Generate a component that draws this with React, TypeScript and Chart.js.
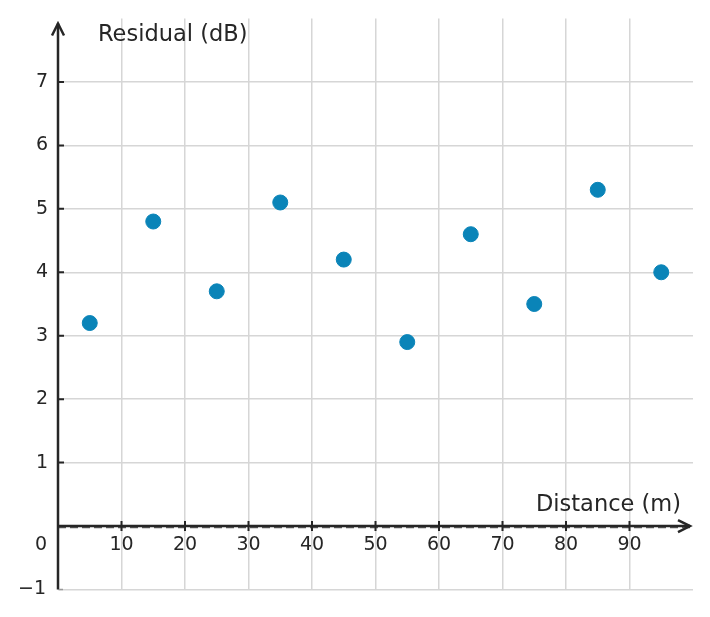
import Chart from 'chart.js/auto';
import { useEffect, useRef } from 'react';

const distances = [5, 15, 25, 35, 45, 55, 65, 75, 85, 95];
const residuals = [3.2, 4.8, 3.7, 5.1, 4.2, 2.9, 4.6, 3.5, 5.3, 4.0];
const xTicks = [10, 20, 30, 40, 50, 60, 70, 80, 90];
const yTicks = [1, 2, 3, 4, 5, 6, 7];
const xTitle = 'Distance (m)';
const yTitle = 'Residual (dB)';

const INK = '#262626';
const FONT = '"DejaVu Sans", sans-serif';

// custom axes crossing at the origin, with arrows
const originAxes = {
	id: 'originAxes',
	afterDraw(chart: any) {
		const { ctx, chartArea, scales } = chart;
		const x0 = scales.x.getPixelForValue(0);
		const y0 = scales.y.getPixelForValue(0);
		const xEnd = chartArea.right - 3;
		const yTop = chartArea.top + 5;
		ctx.save();

		// dashed zero line
		ctx.strokeStyle = '#5a5a5a';
		ctx.lineWidth = 1.5;
		ctx.setLineDash([8, 4]);
		ctx.beginPath();
		ctx.moveTo(x0, y0 + 1.5);
		ctx.lineTo(xEnd, y0 + 1.5);
		ctx.stroke();
		ctx.setLineDash([]);

		ctx.strokeStyle = INK;
		ctx.lineWidth = 2.5;
		ctx.beginPath();
		ctx.moveTo(x0, chartArea.bottom);
		ctx.lineTo(x0, yTop);
		ctx.moveTo(x0, y0);
		ctx.lineTo(xEnd, y0);
		ctx.stroke();

		// arrow heads
		ctx.beginPath();
		ctx.moveTo(x0 - 6, yTop + 12);
		ctx.lineTo(x0, yTop);
		ctx.lineTo(x0 + 6, yTop + 12);
		ctx.moveTo(xEnd - 12, y0 - 6);
		ctx.lineTo(xEnd, y0);
		ctx.lineTo(xEnd - 12, y0 + 6);
		ctx.stroke();

		// tick marks
		ctx.lineWidth = 2;
		ctx.beginPath();
		xTicks.forEach((v) => {
			const px = scales.x.getPixelForValue(v);
			ctx.moveTo(px, y0 - 5);
			ctx.lineTo(px, y0 + 5);
		});
		yTicks.forEach((v) => {
			const py = scales.y.getPixelForValue(v);
			ctx.moveTo(x0, py);
			ctx.lineTo(x0 + 6, py);
		});
		ctx.stroke();
		ctx.strokeStyle = '#999';
		ctx.lineWidth = 1.5;
		ctx.beginPath();
		const yMin = scales.y.getPixelForValue(-1);
		ctx.moveTo(x0 + 1, yMin);
		ctx.lineTo(x0 + 5, yMin);
		ctx.stroke();

		// tick labels
		ctx.fillStyle = INK;
		ctx.font = `19px ${FONT}`;
		ctx.textBaseline = 'middle';
		ctx.textAlign = 'center';
		xTicks.forEach((v) => {
			ctx.fillText(String(v), scales.x.getPixelForValue(v), y0 + 19);
		});
		ctx.textAlign = 'right';
		yTicks.forEach((v) => {
			ctx.fillText(String(v), x0 - 10, scales.y.getPixelForValue(v));
		});
		ctx.fillText('0', x0 - 11, y0 + 19);
		ctx.fillText('\u22121', x0 - 12, yMin);

		// axis titles
		ctx.font = `22.5px ${FONT}`;
		ctx.textAlign = 'left';
		ctx.fillText(yTitle, x0 + 40, chartArea.top + 17);
		ctx.textAlign = 'right';
		ctx.fillText(xTitle, chartArea.right - 12, y0 - 21);
		ctx.restore();
	},
};

function ResidualChart() {
	const chartRef = useRef<HTMLCanvasElement | null>(null);

	useEffect(() => {
		if (!chartRef.current) return;
		document.body.style.margin = '0';

		const existing = Chart.getChart(chartRef.current);
		if (existing) existing.destroy();

		const chart = new Chart(chartRef.current, {
			type: 'scatter',
			data: {
				datasets: [
					{
						label: 'Residual',
						data: distances.map((d, i) => ({ x: d, y: residuals[i] })),
						backgroundColor: '#0a84b8',
						borderColor: '#0a84b8',
						pointRadius: 7.5,
						pointHoverRadius: 7.5,
					},
				],
			},
			options: {
				responsive: true,
				maintainAspectRatio: false,
				animation: false,
				layout: { padding: { left: 58, right: 17, top: 18.5, bottom: 27.5 } },
				plugins: {
					legend: { display: false },
					tooltip: { enabled: false },
				},
				scales: {
					x: {
						type: 'linear',
						min: 0,
						max: 100,
						ticks: { display: false, stepSize: 10 },
						border: { display: false },
						grid: {
							drawTicks: false,
							lineWidth: 1.5,
							color: (c: any) =>
								c.tick && (c.tick.value === 0 || c.tick.value === 100) ? 'rgba(0,0,0,0)' : '#d6d6d6',
						},
					},
					y: {
						type: 'linear',
						min: -1,
						max: 8,
						ticks: { display: false, stepSize: 1 },
						border: { display: false },
						grid: {
							drawTicks: false,
							lineWidth: 1.5,
							color: (c: any) =>
								c.tick && (c.tick.value === 0 || c.tick.value === 8) ? 'rgba(0,0,0,0)' : '#d6d6d6',
						},
					},
				},
			},
			plugins: [originAxes],
		});

		return () => {
			chart.destroy();
		};
	}, []);

	return (
		<div style={{ width: 710, height: 617, position: 'relative' }}>
			<canvas ref={chartRef}></canvas>
		</div>
	);
}

export default function App() {
	return <ResidualChart />;
}
